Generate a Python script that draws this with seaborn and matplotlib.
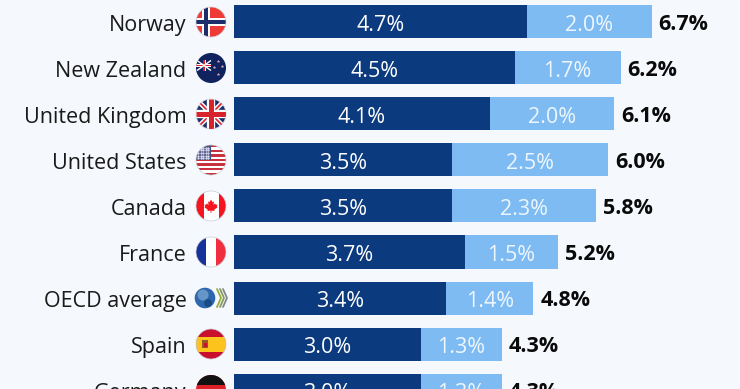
import seaborn as sns
import matplotlib.pyplot as plt
from matplotlib.patches import Circle, Rectangle, Polygon
from matplotlib.transforms import ScaledTranslation

countries = ["Norway", "New Zealand", "United Kingdom", "United States", "Canada",
             "France", "OECD average", "Spain", "Germany"]
first_part = [4.7, 4.5, 4.1, 3.5, 3.5, 3.7, 3.4, 3.0, 3.0]
second_part = [2.0, 1.7, 2.0, 2.5, 2.3, 1.5, 1.4, 1.3, 1.3]
totals = [6.7, 6.2, 6.1, 6.0, 5.8, 5.2, 4.8, 4.3, 4.3]

BG = "#f5f8fc"
DARK = "#0b3a7e"
LIGHT = "#7dbbf2"
NAVY = "#1c2f6b"
W, H = 740, 389
LEFT = 234
UNIT = 62.35  # pixels per percentage point
STEP = 46
FIRST_Y = 22
EXTRA = 46  # axes run past the bottom edge so the cut off Germany row keeps its tick
FS = 15.5

sns.set_theme(style="white")
plt.rcParams["font.family"] = ["Open Sans", "DejaVu Sans"]

fig = plt.figure(figsize=(W / 100, H / 100), dpi=100, facecolor=BG)
ax = fig.add_axes([LEFT / W, -EXTRA / H, 1 - LEFT / W, (H + EXTRA) / H], facecolor=BG)

# light bar sits behind, dark bar on top of it
sns.barplot(x=totals, y=countries, color=LIGHT, width=33 / STEP, saturation=1, linewidth=0, ax=ax)
sns.barplot(x=first_part, y=countries, color=DARK, width=33 / STEP, saturation=1, linewidth=0, ax=ax)

ax.set_xlim(0, (W - LEFT) / UNIT)
ax.set_ylim((H + EXTRA - FIRST_Y) / STEP, -FIRST_Y / STEP)
ax.set_xticks([])
ax.set_xlabel("")
ax.set_ylabel("")
ax.tick_params(axis="y", length=0, pad=34.2, labelsize=FS, labelcolor="#1a1a1a")
sns.despine(ax=ax, left=True, bottom=True, right=True, top=True)

# nudge the texts one pixel down
nudge = ScaledTranslation(0, -1 / 100, fig.dpi_scale_trans)
for label in ax.get_yticklabels():
    label.set_transform(label.get_transform() + nudge)

for i, (a, b, t) in enumerate(zip(first_part, second_part, totals)):
    ax.text(a / 2, i, f"{a:.1f}%", color="white", fontsize=FS, ha="center", va="center_baseline",
            transform=ax.transData + nudge)
    ax.text(a + b / 2, i, f"{b:.1f}%", color="#eef6fe", fontsize=FS, ha="center", va="center_baseline",
            transform=ax.transData + nudge)
    ax.annotate(f"{t:.1f}%", (t, i), xytext=(5, 0), textcoords="offset points", color="#0a0a0a",
                fontsize=FS, fontweight="bold", ha="left", va="center_baseline")

# flags live on an overlay in pixel units
ov = fig.add_axes([0, 0, 1, 1], facecolor="none")
ov.set_xlim(0, W)
ov.set_ylim(H, 0)
ov.axis("off")
CX, R = 211, 15


def disc(cy, base):
    c = Circle((CX, cy), R, fc=base, ec="none")
    ov.add_patch(c)
    return c


def rect(clip, x0, y0, x1, y1, color):
    p = Rectangle((x0, y0), x1 - x0, y1 - y0, fc=color, ec="none")
    ov.add_patch(p)
    p.set_clip_path(clip)


def bar_line(clip, p0, p1, color, lw):
    ln, = ov.plot([p0[0], p1[0]], [p0[1], p1[1]], color=color, lw=lw, solid_capstyle="butt")
    ln.set_clip_path(clip)


def rim(cy):
    ov.add_patch(Circle((CX, cy), R, fc="none", ec="#c9ced6", lw=0.5))


def flag_norway(cy):
    c = disc(cy, "#ef3b36")
    rect(c, CX - 9, cy - R, CX - 1, cy + R, "white")
    rect(c, CX - R, cy - 4, CX + R, cy + 4, "white")
    rect(c, CX - 7, cy - R, CX - 3, cy + R, NAVY)
    rect(c, CX - R, cy - 2, CX + R, cy + 2, NAVY)
    rim(cy)


def flag_nz(cy):
    c = disc(cy, "#10235f")
    for d in (1, -1):
        bar_line(c, (CX - 14, cy - 2.5 - d * 5), (CX, cy - 2.5 + d * 5), "white", 1.0)
    rect(c, CX - R, cy - 3.8, CX, cy - 1.2, "white")
    rect(c, CX - 8.5, cy - 8, CX - 5.5, cy + 3, "white")
    rect(c, CX - R, cy - 3.1, CX, cy - 1.9, "#d8232f")
    rect(c, CX - 7.6, cy - 8, CX - 6.4, cy + 3, "#d8232f")
    ov.scatter([CX + 7, CX + 3, CX + 11, CX + 7], [cy - 7, cy - 1, cy - 2, cy + 6],
               s=3, color="#e8596a", marker="*", linewidths=0.2, edgecolors="white", zorder=3)


def flag_uk(cy):
    c = disc(cy, NAVY)
    for d in (1, -1):
        bar_line(c, (CX - R, cy - d * R), (CX + R, cy + d * R), "white", 3.4)
        bar_line(c, (CX - R, cy - d * R), (CX + R, cy + d * R), "#d8232f", 1.2)
    bar_line(c, (CX - R, cy), (CX + R, cy), "white", 6)
    bar_line(c, (CX, cy - R), (CX, cy + R), "white", 6)
    bar_line(c, (CX - R, cy), (CX + R, cy), "#d8232f", 3.6)
    bar_line(c, (CX, cy - R), (CX, cy + R), "#d8232f", 3.6)
    rim(cy)


def flag_us(cy):
    c = disc(cy, "white")
    for k in range(7):
        y0 = cy - R + k * 30 / 6.5
        rect(c, CX - R, y0, CX + R, y0 + 30 / 13, "#c8313e")
    rect(c, CX - R, cy - R, CX, cy, "#4a4f86")
    for row in range(5):
        xs = [CX - 13 + 2.6 * j for j in range(5)]
        ln, = ov.plot(xs, [cy - 12.5 + row * 2.7] * 5, ls="none", marker=".", ms=1.2, color="#e6e8f2")
        ln.set_clip_path(c)
    rim(cy)


def flag_canada(cy):
    c = disc(cy, "white")
    rect(c, CX - R, cy - R, CX - 7.5, cy + R, "#f5141f")
    rect(c, CX + 7.5, cy - R, CX + R, cy + R, "#f5141f")
    leaf = [(0, -6.5), (1.5, -3.8), (3, -4.6), (2.4, -1.2), (4.2, -2.6), (4.8, -1.2), (6.5, -1.5),
            (5.8, 0.7), (6.6, 1.2), (3.2, 3.8), (3.5, 5), (0.4, 4.6), (0.4, 7), (-0.4, 7),
            (-0.4, 4.6), (-3.5, 5), (-3.2, 3.8), (-6.6, 1.2), (-5.8, 0.7), (-6.5, -1.5),
            (-4.8, -1.2), (-4.2, -2.6), (-2.4, -1.2), (-3, -4.6), (-1.5, -3.8)]
    ov.add_patch(Polygon([(CX + x, cy + y) for x, y in leaf], fc="#f5141f", ec="none"))
    rim(cy)


def flag_france(cy):
    c = disc(cy, "white")
    rect(c, CX - R, cy - R, CX - 5, cy + R, "#17329b")
    rect(c, CX + 5, cy - R, CX + R, cy + R, "#ef2f3f")
    rim(cy)


def flag_oecd(cy):
    ov.add_patch(Circle((205, cy), 10.3, fc="#2d68ad", ec="none"))
    ov.add_patch(Circle((203, cy - 3), 5.5, fc="#7fa9d3", ec="none", alpha=0.7))
    ov.add_patch(Circle((208, cy + 5), 4, fc="#123f78", ec="none", alpha=0.7))
    for dx, col in zip((0, 3, 6), ("#93b23b", "#8b9a5a", "#7f8a8f")):
        ov.plot([217 + dx, 221 + dx, 217 + dx], [cy - 9, cy, cy + 9], color=col, lw=1.3)


def flag_spain(cy):
    c = disc(cy, "#c8102e")
    rect(c, CX - R, cy - 7.5, CX + R, cy + 7.5, "#fbc31c")
    ov.add_patch(Rectangle((CX - 9, cy - 4), 6, 8, fc="#9a5a1e", ec="none"))
    ov.add_patch(Rectangle((CX - 7.5, cy - 1), 3, 4, fc="#c8102e", ec="none"))
    rim(cy)


def flag_germany(cy):
    c = disc(cy, "#dd1f26")
    rect(c, CX - R, cy - R, CX + R, cy - 5, "#111111")
    rect(c, CX - R, cy + 5, CX + R, cy + R, "#ffce00")


drawers = [flag_norway, flag_nz, flag_uk, flag_us, flag_canada,
           flag_france, flag_oecd, flag_spain, flag_germany]
for i, draw in enumerate(drawers):
    draw(FIRST_Y + i * STEP)

fig.savefig("out.png", dpi=100, facecolor=BG)
